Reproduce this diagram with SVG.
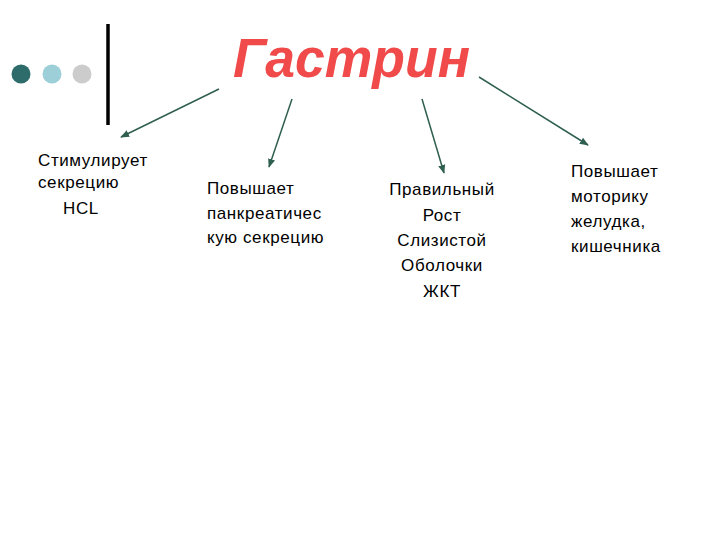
<svg xmlns="http://www.w3.org/2000/svg" width="720" height="540" viewBox="0 0 720 540">
<style>
.t{font-family:"Liberation Sans",Arial,sans-serif;font-size:17px;letter-spacing:0.6px;fill:#000}
.c{text-anchor:middle}
.title{font-family:"Liberation Sans",Arial,sans-serif;font-size:56px;font-weight:bold;font-style:italic;fill:#f04a4a}
.a{stroke:#2f5f50;stroke-width:1.5;fill:none;marker-end:url(#ah)}
</style>
<defs>
<marker id="ah" viewBox="0 0 10 10" refX="9" refY="5" markerWidth="6" markerHeight="6" orient="auto" markerUnits="strokeWidth">
<path d="M0,1 L10,5 L0,9 z" fill="#2f5f50"/>
</marker>
</defs>
<rect width="720" height="540" fill="#fff"/>
<g id="decor">
<circle cx="21" cy="74" r="9.5" fill="#2e6b6b"/>
<circle cx="52" cy="74" r="9.5" fill="#9ccfd8"/>
<circle cx="82" cy="74" r="9.5" fill="#cccccc"/>
<line x1="108" y1="24" x2="108" y2="125" stroke="#000" stroke-width="3.5"/>
</g>
<g id="title"><text class="title" x="233" y="77" textLength="237" lengthAdjust="spacingAndGlyphs">Гастрин</text></g>
<g id="connectors">
<line class="a" x1="219" y1="89" x2="121" y2="137"/>
<line class="a" x1="292" y1="99" x2="269" y2="167"/>
<line class="a" x1="422" y1="99" x2="444" y2="173"/>
<line class="a" x1="479" y1="77" x2="588" y2="145"/>
</g>
<g id="n1">
<text class="t" x="38" y="166">Стимулирует</text>
<text class="t" x="38" y="188">секрецию</text>
<text class="t" x="63" y="214">HCL</text>
</g>
<g id="n2">
<text class="t" x="207" y="194">Повышает</text>
<text class="t" x="207" y="219">панкреатичес</text>
<text class="t" x="207" y="243">кую секрецию</text>
</g>
<g id="n3">
<text class="t c" x="442" y="195">Правильный</text>
<text class="t c" x="442" y="221">Рост</text>
<text class="t c" x="442" y="246">Слизистой</text>
<text class="t c" x="442" y="271">Оболочки</text>
<text class="t c" x="442" y="297">ЖКТ</text>
</g>
<g id="n4">
<text class="t" x="571" y="177">Повышает</text>
<text class="t" x="571" y="202">моторику</text>
<text class="t" x="571" y="227">желудка,</text>
<text class="t" x="571" y="252">кишечника</text>
</g>
</svg>
